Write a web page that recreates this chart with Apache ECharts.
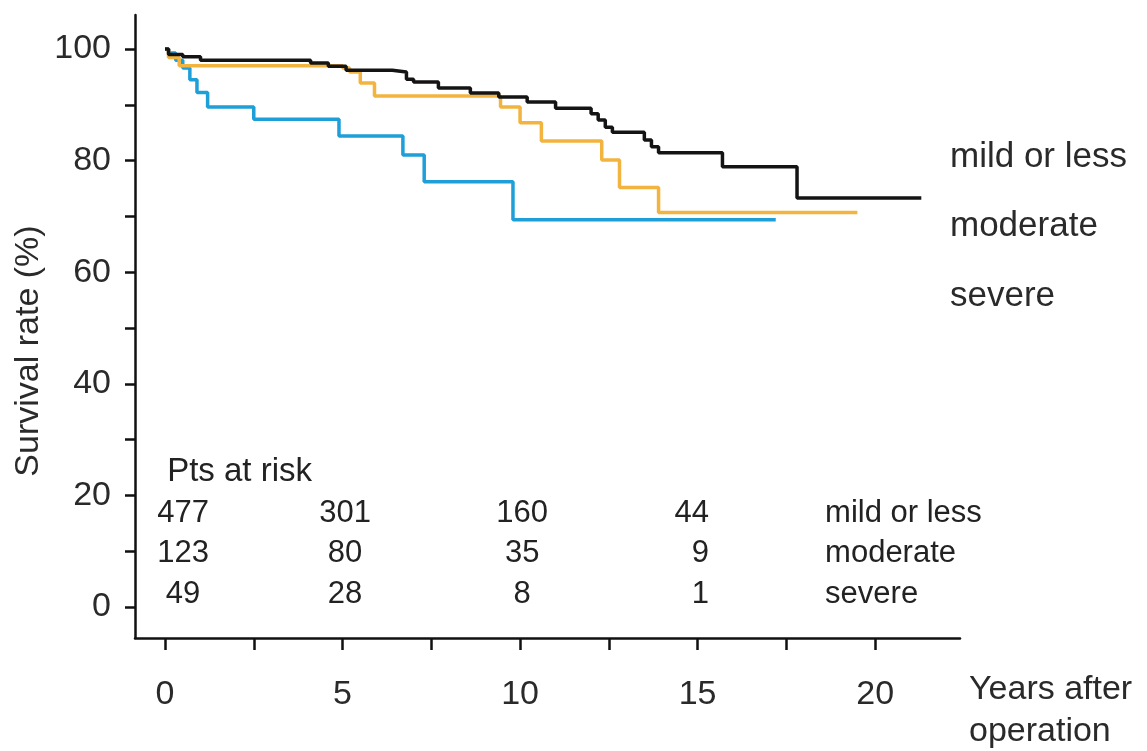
<!DOCTYPE html>
<html>
<head>
<meta charset="utf-8">
<script src="https://cdn.jsdelivr.net/npm/echarts@6/dist/echarts.min.js"></script>
<style>
  html, body { margin: 0; padding: 0; background: #fff; }
  #chart { width: 1147px; height: 751px; }
</style>
</head>
<body>
<div id="chart"></div>
<script>
// ---- data ----
const mildOrLess = [
  [0, 100], [0.1, 99.0], [0.5, 98.6], [1.0, 98.0], [4.1, 97.5], [4.6, 96.9],
  [5.1, 96.2], [6.4, 95.9], [6.8, 94.6], [7.0, 94.1], [7.7, 93.0], [8.6, 92.1],
  [9.4, 91.4], [10.2, 90.5], [11.0, 89.4], [12.0, 88.4], [12.2, 87.3], [12.4, 86.0],
  [12.6, 85.1], [13.5, 83.7], [13.7, 82.5], [13.9, 81.4], [15.7, 78.9], [17.8, 73.3],
  [21.3, 73.3]
];
const moderate = [
  [0, 100], [0.1, 98.5], [0.4, 97.0], [5.0, 96.6], [5.2, 95.9], [5.5, 93.9],
  [5.9, 91.6], [9.45, 89.6], [10.0, 86.8], [10.6, 83.5], [12.3, 80.1], [12.8, 75.2],
  [13.9, 70.7], [19.5, 70.7]
];
const severe = [
  [0, 100], [0.1, 99.3], [0.3, 98.0], [0.5, 96.6], [0.7, 94.5], [0.9, 92.2],
  [1.2, 89.6], [2.5, 87.4], [4.9, 84.4], [6.7, 81.0], [7.3, 76.2], [9.8, 69.4],
  [17.2, 69.4]
];
const groupNames = ['mild or less', 'moderate', 'severe'];
const riskYears = [0, 5, 10, 15];
const riskMild = [477, 301, 160, 44];
const riskModerate = [123, 80, 35, 9];
const riskSevere = [49, 28, 8, 1];
const xTickValues = [0, 2.5, 5, 7.5, 10, 12.5, 15, 17.5, 20];
const xLabelValues = [0, 5, 10, 15, 20];
const yTickValues = [0, 10, 20, 30, 40, 50, 60, 70, 80, 90, 100];
const yLabelValues = [0, 20, 40, 60, 80, 100];
const yAxisTitle = 'Survival rate (%)';
const xAxisTitle = ['Years after', 'operation'];
const riskTitle = 'Pts at risk';

// ---- layout (not data) ----
const colX = [0.51, 5.07, 10.06, 15.32];   // column anchor positions (years)
const colAlign = ['center', 'center', 'center', 'right'];
const rowY = [16.85, 9.68, 2.33];           // row centres (axis units)
const nameColX = 18.59;
const titleY = 24.2;
const colors = ['#141414', '#F2B43F', '#1E9FD8'];
const FONT = '"Liberation Sans", Arial, sans-serif';

const riskRows = [riskMild, riskModerate, riskSevere];
const tableData = [];
riskRows.forEach((row, r) => {
  row.forEach((v, c) => tableData.push([c, r, v]));
});

const chart = echarts.init(document.getElementById('chart'), null, { renderer: 'canvas' });

const axisLineStyle = { color: '#111', width: 2.5 };

chart.setOption({
  animation: false,
  backgroundColor: '#fff',
  grid: { left: 135, right: 187, top: 15, bottom: 113, containLabel: false },
  xAxis: {
    type: 'value', min: -0.845, max: 22.39,
    axisLine: { show: true, onZero: false, lineStyle: axisLineStyle },
    axisTick: { show: true, inside: false, length: 12, customValues: xTickValues, lineStyle: { color: '#111', width: 2.5 } },
    axisLabel: { customValues: xLabelValues, margin: 40, fontSize: 34, color: '#2a2a2a', fontFamily: FONT },
    splitLine: { show: false }
  },
  yAxis: {
    type: 'value', min: -5.56, max: 106.1,
    axisLine: { show: true, onZero: false, lineStyle: axisLineStyle },
    axisTick: { show: true, inside: false, length: 10, customValues: yTickValues, lineStyle: { color: '#111', width: 2.5 } },
    axisLabel: { customValues: yLabelValues, margin: 24, fontSize: 34, color: '#2a2a2a', fontFamily: FONT },
    splitLine: { show: false }
  },
  series: [
    { name: groupNames[2], type: 'line', step: 'end', data: severe, showSymbol: false, symbol: 'none',
      lineStyle: { color: colors[2], width: 3.5 }, z: 2 },
    { name: groupNames[1], type: 'line', step: 'end', data: moderate, showSymbol: false, symbol: 'none',
      lineStyle: { color: colors[1], width: 3.5 }, z: 3 },
    { name: groupNames[0], type: 'line', step: 'end', data: mildOrLess, showSymbol: false, symbol: 'none',
      lineStyle: { color: colors[0], width: 3.5 }, z: 4 },
    {
      type: 'custom', data: tableData, z: 5, silent: true,
      renderItem: function (params, api) {
        const c = api.value(0), r = api.value(1), v = api.value(2);
        const pt = api.coord([colX[c], rowY[r]]);
        return {
          type: 'text', x: pt[0], y: pt[1],
          style: { text: String(v), fill: '#222', fontSize: 31, fontFamily: FONT,
                   align: colAlign[c], verticalAlign: 'middle' }
        };
      }
    },
    {
      type: 'custom', data: groupNames.map((n, i) => [i]), z: 5, silent: true,
      renderItem: function (params, api) {
        const i = api.value(0);
        const pt = api.coord([nameColX, rowY[i]]);
        return {
          type: 'text', x: pt[0], y: pt[1],
          style: { text: groupNames[i], fill: '#222', fontSize: 31, fontFamily: FONT,
                   align: 'left', verticalAlign: 'middle' }
        };
      }
    },
    {
      type: 'custom', data: [[0]], z: 5, silent: true,
      renderItem: function (params, api) {
        const pt = api.coord([0.06, titleY]);
        return {
          type: 'text', x: pt[0], y: pt[1],
          style: { text: riskTitle, fill: '#222', fontSize: 33, fontFamily: FONT,
                   align: 'left', verticalAlign: 'middle' }
        };
      }
    }
  ],
  graphic: [
    { type: 'text', x: 29, y: 351, rotation: Math.PI / 2,
      style: { text: yAxisTitle, fill: '#2a2a2a', fontSize: 34, fontFamily: FONT, align: 'center', verticalAlign: 'middle' } },
    { type: 'text', x: 950, y: 157, style: { text: groupNames[0], fill: '#2a2a2a', fontSize: 35, fontFamily: FONT, align: 'left', verticalAlign: 'middle' } },
    { type: 'text', x: 950, y: 226, style: { text: groupNames[1], fill: '#2a2a2a', fontSize: 35, fontFamily: FONT, align: 'left', verticalAlign: 'middle' } },
    { type: 'text', x: 950, y: 296, style: { text: groupNames[2], fill: '#2a2a2a', fontSize: 35, fontFamily: FONT, align: 'left', verticalAlign: 'middle' } },
    { type: 'text', x: 969, y: 690, style: { text: xAxisTitle[0], fill: '#2a2a2a', fontSize: 34, fontFamily: FONT, align: 'left', verticalAlign: 'middle' } },
    { type: 'text', x: 969, y: 732, style: { text: xAxisTitle[1], fill: '#2a2a2a', fontSize: 34, fontFamily: FONT, align: 'left', verticalAlign: 'middle' } }
  ]
});
</script>
</body>
</html>
